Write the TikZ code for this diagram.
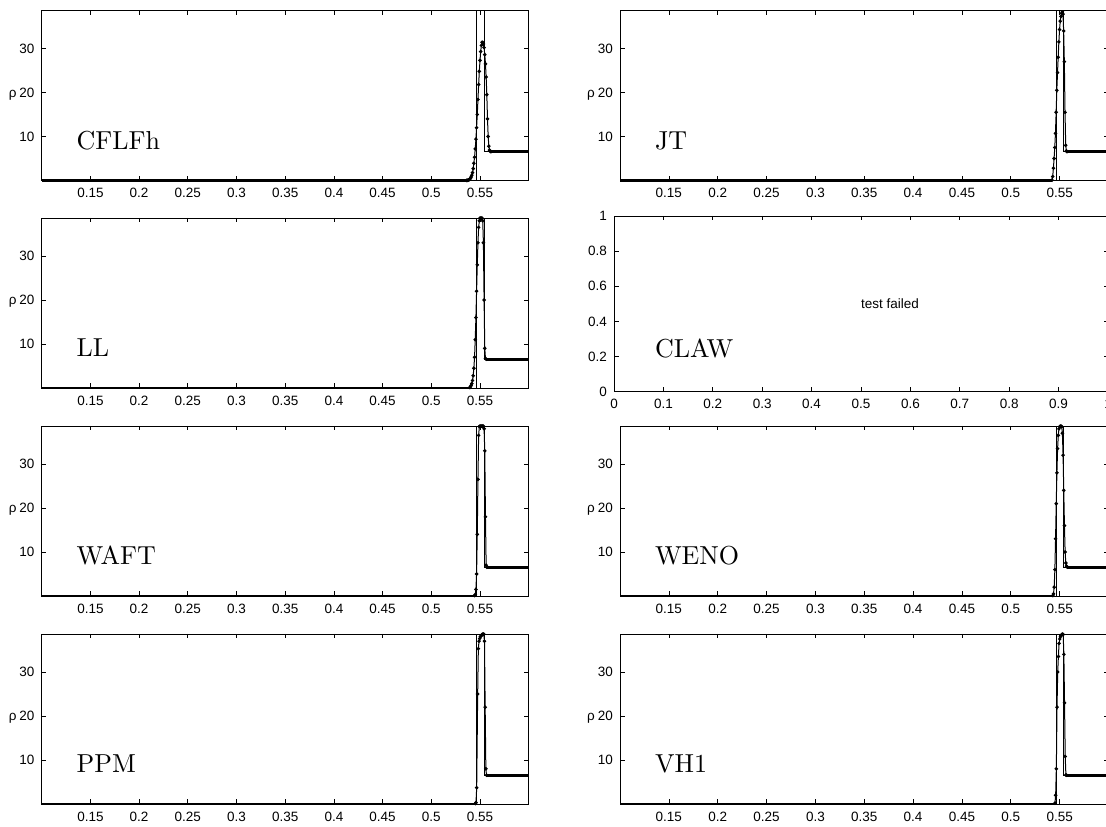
\documentclass[tikz,border=0pt]{standalone}
\usepackage{fontspec}
\setsansfont{Liberation Sans}
\newcommand{\rhopanel}[7]{%
\begin{scope}[#2, yshift=#3pt, y=4.4pt]
  \draw[numflat] (0.1,0) -- (#6,0);
  \draw[numflat] (#7,6.55) -- (0.6,6.55);
  \draw[numline] plot[mark=*, mark size=1.25pt, mark options={fill=black}] coordinates {#5};
  \draw[exact] (0.1,0) -- (0.5463,0) -- (0.5463,38.64) -- (0.5542,38.64) -- (0.5542,6.55) -- (0.6,6.55);
  \draw[frame] (0.1,0) rectangle (0.6,38.64);
  \foreach \t [count=\i] in {0.15,0.2,0.25,0.3,0.35,0.4,0.45,0.5,0.55} {
    \draw[tick] (\t,0) -- ++(0pt,4.5pt);
    \draw[tick] (\t,38.64) -- ++(0pt,-4.5pt);
    \node[ticklab, anchor=base] (#1x\i) at ([yshift=-17.5pt]\t,0) {\t};
  }
  \foreach \t [count=\i] in {10,20,30} {
    \draw[tick] (0.1,\t) -- ++(4.5pt,0pt);
    \draw[tick] (0.6,\t) -- ++(-4.5pt,0pt);
    \node[ticklab, anchor=base east] (#1y\i) at ([xshift=-7pt,yshift=-4.8pt]0.1,\t) {\t};
  }
  \node[ticklab, anchor=base] (#1rho) at ([xshift=-29pt,yshift=-4.8pt]0.1,20) {ρ};
  \node[panlab] (#1lab) at ([xshift=34.8pt,yshift=31pt]0.1,0) {\scalebox{2.6}{#4}};
\end{scope}}
\begin{document}
\begin{tikzpicture}[x=1pt,y=1pt,
  frame/.style={draw=black, line width=0.9pt},
  tick/.style={line width=0.7pt},
  ticklab/.style={font=\fontsize{13.5}{15}\selectfont\sffamily, inner sep=0pt},
  panlab/.style={font=\fontsize{10}{12}\selectfont\rmfamily, inner sep=0pt, anchor=base west},
  exact/.style={line width=0.8pt},
  numflat/.style={line width=2.8pt},
  numline/.style={line width=1pt}]
\useasboundingbox (0,0) rectangle (1106,827);
\clip (0,0) rectangle (1106,827);
\fill[white] (0,0) rectangle (1106,827);

% Row 1
\rhopanel{a}{xshift=-55.7pt, x=974pt}{646.5}{CFLFh}{(0.5360,0.02) (0.5367,0.03) (0.5374,0.06) (0.5381,0.11) (0.5388,0.18) (0.5395,0.31) (0.5402,0.5) (0.5409,0.8) (0.5416,1.2) (0.5423,1.8) (0.5430,2.7) (0.5437,3.9) (0.5444,5.3) (0.5451,7.2) (0.5458,9.4) (0.5465,12.0) (0.5472,15.0) (0.5479,18.4) (0.5486,21.8) (0.5493,24.8) (0.5500,27.3) (0.5507,29.3) (0.5514,30.7) (0.5521,31.4) (0.5528,31.4) (0.5535,31.0) (0.5542,30.2) (0.5549,28.6) (0.5556,26.5) (0.5563,23.5) (0.5570,19.5) (0.5577,14.0) (0.5584,10.0) (0.5591,7.8) (0.5598,6.9) (0.5605,6.6) (0.5612,6.55)}{0.5360}{0.5612}
\rhopanel{b}{xshift=522.3pt, x=977pt}{646.5}{JT}{(0.5422,0.1) (0.5429,0.9) (0.5436,2.8) (0.5443,5.0) (0.5450,7.5) (0.5457,10.7) (0.5464,15.5) (0.5471,20.5) (0.5478,24.5) (0.5485,28.0) (0.5492,31.5) (0.5499,34.3) (0.5506,36.2) (0.5513,37.3) (0.5520,38.0) (0.5527,38.3) (0.5534,37.8) (0.5541,34.0) (0.5548,27.0) (0.5555,15.5) (0.5562,8.0) (0.5569,6.7) (0.5576,6.55)}{0.5422}{0.5576}

% Row 2
\rhopanel{c}{xshift=-55.7pt, x=974pt}{439}{LL}{(0.5395,0.1) (0.5402,0.3) (0.5409,0.6) (0.5416,1.0) (0.5423,1.7) (0.5430,2.8) (0.5437,4.5) (0.5444,7.0) (0.5451,11.0) (0.5458,16.0) (0.5465,22.0) (0.5472,28.0) (0.5479,33.0) (0.5486,36.5) (0.5493,38.0) (0.5500,38.6) (0.5507,38.6) (0.5514,38.6) (0.5521,38.6) (0.5528,38.0) (0.5535,33.0) (0.5542,20.0) (0.5549,9.0) (0.5556,6.7) (0.5563,6.55)}{0.5395}{0.5563}
\begin{scope}[xshift=614pt, yshift=435.5pt, x=494pt, y=175.5pt]
  \draw[frame] (0,0) rectangle (1,1);
  \foreach \t in {0.1,0.2,0.3,0.4,0.5,0.6,0.7,0.8,0.9} {
    \draw[tick] (\t,0) -- ++(0pt,4.5pt);
    \draw[tick] (\t,1) -- ++(0pt,-4.5pt);
  }
  \foreach \t [count=\i] in {0,0.1,0.2,0.3,0.4,0.5,0.6,0.7,0.8,0.9,1} {
    \node[ticklab, anchor=base] (dx\i) at ([yshift=-17.5pt]\t,0) {\t};
  }
  \foreach \t in {0.2,0.4,0.6,0.8} {
    \draw[tick] (0,\t) -- ++(4.5pt,0pt);
    \draw[tick] (1,\t) -- ++(-4.5pt,0pt);
  }
  \foreach \t [count=\i] in {0,0.2,0.4,0.6,0.8,1} {
    \node[ticklab, anchor=base east] (dy\i) at ([xshift=-7pt,yshift=-4.8pt]0,\t) {\t};
  }
  \node[ticklab, anchor=west] (dfail) at (0.5,0.5) {test failed};
  \node[panlab] (dlab) at ([xshift=40.8pt,yshift=34pt]0,0) {\scalebox{2.6}{CLAW}};
\end{scope}

% Row 3
\rhopanel{e}{xshift=-55.7pt, x=974pt}{231}{WAFT}{(0.5444,0.1) (0.5451,0.3) (0.5458,1.5) (0.5465,5.0) (0.5472,14.0) (0.5479,26.5) (0.5486,36.5) (0.5493,38.5) (0.5500,38.6) (0.5507,38.6) (0.5514,38.6) (0.5521,38.6) (0.5528,38.6) (0.5535,38.6) (0.5542,38.0) (0.5549,33.0) (0.5556,18.0) (0.5563,7.0) (0.5570,6.55)}{0.5444}{0.5570}
\rhopanel{f}{xshift=522.3pt, x=977pt}{231}{WENO}{(0.5430,0.1) (0.5437,0.5) (0.5444,2.0) (0.5451,6.0) (0.5458,13.0) (0.5465,21.0) (0.5472,28.0) (0.5479,33.5) (0.5486,36.5) (0.5493,38.0) (0.5500,38.5) (0.5507,38.6) (0.5514,38.6) (0.5521,38.5) (0.5528,37.0) (0.5535,32.0) (0.5542,24.0) (0.5549,16.0) (0.5556,10.0) (0.5563,7.5) (0.5570,6.8) (0.5577,6.55)}{0.5430}{0.5577}

% Row 4
\rhopanel{g}{xshift=-55.7pt, x=974pt}{23}{PPM}{(0.5452,0.1) (0.5459,0.3) (0.5466,3.7) (0.5476,25.0) (0.5483,35.3) (0.5490,37.0) (0.5497,37.6) (0.5504,38.0) (0.5511,38.2) (0.5518,38.4) (0.5525,38.6) (0.5532,38.6) (0.5539,38.6) (0.5546,37.0) (0.5553,22.0) (0.5560,8.0) (0.5567,6.55)}{0.5452}{0.5567}
\rhopanel{h}{xshift=522.3pt, x=977pt}{23}{VH1}{(0.5452,0.2) (0.5459,2.0) (0.5466,8.0) (0.5473,22.0) (0.5480,30.0) (0.5487,33.5) (0.5494,36.5) (0.5501,37.5) (0.5508,38.0) (0.5515,38.3) (0.5522,38.5) (0.5529,38.6) (0.5536,38.5) (0.5543,34.0) (0.5550,23.0) (0.5557,10.8) (0.5564,6.6) (0.5571,6.55)}{0.5452}{0.5571}
\end{tikzpicture}
\end{document}
